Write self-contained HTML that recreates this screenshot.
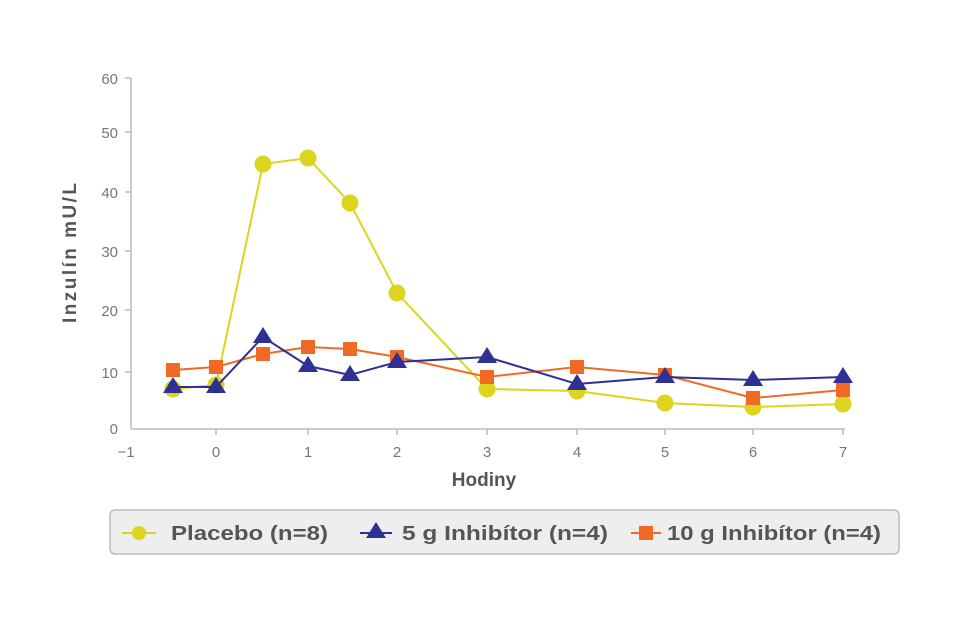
<!DOCTYPE html>
<html><head><meta charset="utf-8"><style>
body{margin:0;background:#fff;}
svg{display:block;font-family:"Liberation Sans",sans-serif;}
</style></head><body>
<svg width="970" height="629" viewBox="0 0 970 629">
<g stroke="#bbb" stroke-width="1.5" fill="none">
<line x1="131" y1="78" x2="131" y2="429"/>
<line x1="131" y1="429" x2="845" y2="429"/>
<line x1="125" y1="78" x2="131" y2="78"/><line x1="125" y1="132" x2="131" y2="132"/>
<line x1="125" y1="192" x2="131" y2="192"/><line x1="125" y1="251" x2="131" y2="251"/>
<line x1="125" y1="310" x2="131" y2="310"/><line x1="125" y1="372" x2="131" y2="372"/>
<line x1="216" y1="429" x2="216" y2="435"/><line x1="308" y1="429" x2="308" y2="435"/>
<line x1="397" y1="429" x2="397" y2="435"/><line x1="487" y1="429" x2="487" y2="435"/>
<line x1="577" y1="429" x2="577" y2="435"/><line x1="665" y1="429" x2="665" y2="435"/>
<line x1="753" y1="429" x2="753" y2="435"/><line x1="843" y1="429" x2="843" y2="435"/>
</g>
<g fill="#777" font-size="15" text-anchor="end">
<text x="118" y="84">60</text><text x="118" y="138">50</text><text x="118" y="198">40</text>
<text x="118" y="257">30</text><text x="118" y="316">20</text><text x="118" y="378">10</text>
<text x="118" y="434">0</text>
</g>
<g fill="#777" font-size="15" text-anchor="middle">
<text x="126" y="457">−1</text><text x="216" y="457">0</text><text x="308" y="457">1</text>
<text x="397" y="457">2</text><text x="487" y="457">3</text><text x="577" y="457">4</text>
<text x="665" y="457">5</text><text x="753" y="457">6</text><text x="843" y="457">7</text>
</g>
<text x="484" y="486" font-size="19" font-weight="bold" fill="#555" text-anchor="middle">Hodiny</text>
<text transform="translate(76,253) rotate(-90)" font-size="19" font-weight="bold" fill="#555" text-anchor="middle" textLength="140">Inzulín  mU/L</text>
<polyline fill="none" stroke="#dcd41e" stroke-width="2" points="173,389 216,385 263,164 308,158 350,203 397,293 487,389 577,391 665,403 753,407 843,404"/>
<g fill="#dcd41e">
<circle cx="173" cy="389" r="8.5"/><circle cx="216" cy="385" r="8.5"/><circle cx="263" cy="164" r="8.5"/>
<circle cx="308" cy="158" r="8.5"/><circle cx="350" cy="203" r="8.5"/><circle cx="397" cy="293" r="8.5"/>
<circle cx="487" cy="389" r="8.5"/><circle cx="577" cy="391" r="8.5"/><circle cx="665" cy="403" r="8.5"/>
<circle cx="753" cy="407" r="8.5"/><circle cx="843" cy="404" r="8.5"/>
</g>
<polyline fill="none" stroke="#f06a25" stroke-width="2" points="173,370 216,367 263,354 308,347 350,349 397,357 487,377 577,367 665,375 753,398 843,390"/>
<g fill="#f06a25">
<rect x="166" y="363" width="14" height="14"/><rect x="209" y="360" width="14" height="14"/>
<rect x="256" y="347" width="14" height="14"/><rect x="301" y="340" width="14" height="14"/>
<rect x="343" y="342" width="14" height="14"/><rect x="390" y="350" width="14" height="14"/>
<rect x="480" y="370" width="14" height="14"/><rect x="570" y="360" width="14" height="14"/>
<rect x="658" y="368" width="14" height="14"/><rect x="746" y="391" width="14" height="14"/>
<rect x="836" y="383" width="14" height="14"/>
</g>
<polyline fill="none" stroke="#2e3192" stroke-width="2" points="173,387 216,387 263,337 308,366 350,375 397,362 487,357 577,384 665,377 753,380 843,377"/>
<g fill="#2e3192">
<polygon points="173,377 163,393 183,393"/><polygon points="216,377 206,393 226,393"/>
<polygon points="263,327 253,343 273,343"/><polygon points="308,356 298,372 318,372"/>
<polygon points="350,365 340,381 360,381"/><polygon points="397,352 387,368 407,368"/>
<polygon points="487,347 477,363 497,363"/><polygon points="577,374 567,390 587,390"/>
<polygon points="665,367 655,383 675,383"/><polygon points="753,370 743,386 763,386"/>
<polygon points="843,367 833,383 853,383"/>
</g>
<rect x="110" y="510" width="789" height="44" rx="5" fill="#eeeeee" stroke="#bbb" stroke-width="1.5"/>
<line x1="122" y1="533" x2="156" y2="533" stroke="#dcd41e" stroke-width="2"/><circle cx="139" cy="533" r="7" fill="#dcd41e"/>
<text x="171" y="540" font-size="20" font-weight="bold" fill="#555" textLength="157" lengthAdjust="spacingAndGlyphs">Placebo (n=8)</text>
<line x1="360" y1="533" x2="392" y2="533" stroke="#2e3192" stroke-width="2"/><polygon points="376,522 366,538 386,538" fill="#2e3192"/>
<text x="402" y="540" font-size="20" font-weight="bold" fill="#555" textLength="206" lengthAdjust="spacingAndGlyphs">5 g  Inhibítor (n=4)</text>
<line x1="631" y1="533" x2="661" y2="533" stroke="#f06a25" stroke-width="2"/><rect x="639" y="526" width="14" height="14" fill="#f06a25"/>
<text x="667" y="540" font-size="20" font-weight="bold" fill="#555" textLength="214" lengthAdjust="spacingAndGlyphs">10 g  Inhibítor (n=4)</text>
</svg>
</body></html>
